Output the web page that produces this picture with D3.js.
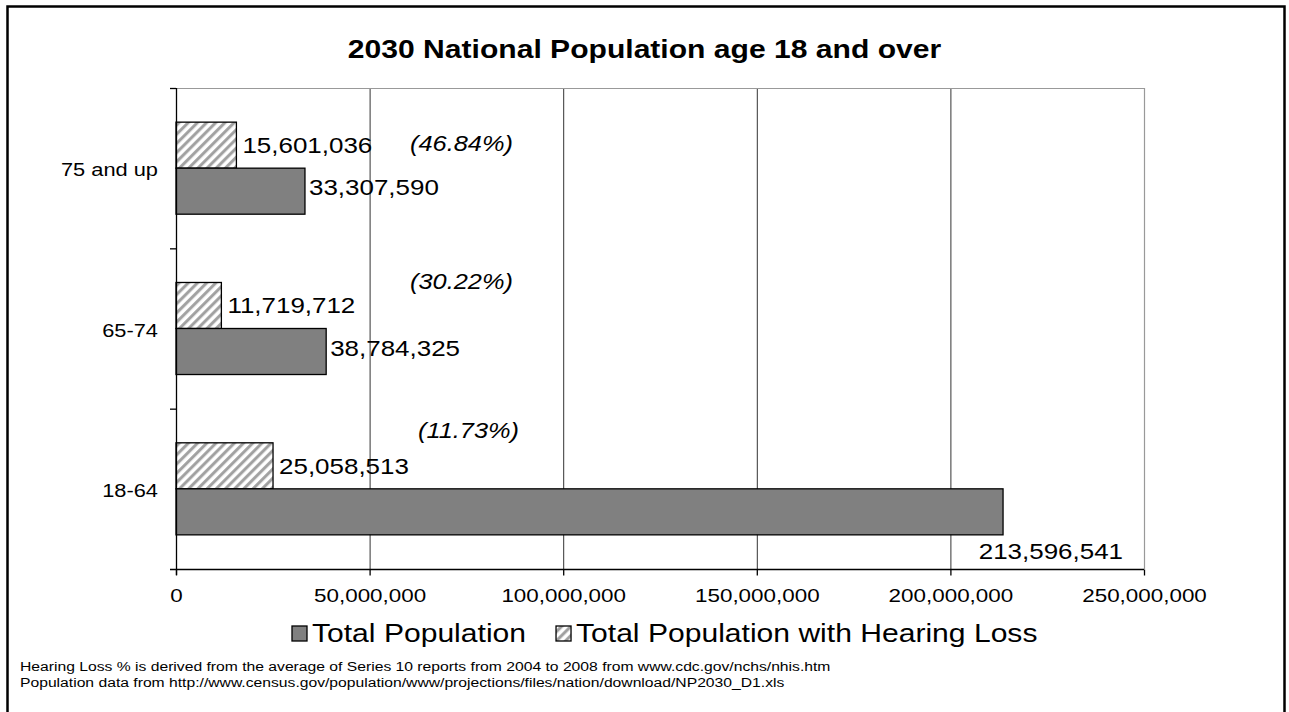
<!DOCTYPE html>
<html>
<head>
<meta charset="utf-8">
<script src="https://cdn.jsdelivr.net/npm/d3@7"></script>
<style>
  body { margin: 0; background: #fff; }
  svg text { font-family: Arial, "Liberation Sans", sans-serif; fill: #000; }
</style>
</head>
<body>
<svg id="chart" width="1289" height="712"></svg>
<script>

// chart data
var categories = ["75 and up", "65-74", "18-64"];
var totalPop = [33307590, 38784325, 213596541];
var hearingLoss = [15601036, 11719712, 25058513];
var pctLabels = ["(46.84%)", "(30.22%)", "(11.73%)"];
var xTicks = [0, 50000000, 100000000, 150000000, 200000000, 250000000];
var seriesNames = ["Total Population", "Total Population with Hearing Loss"];
var title = "2030 National Population age 18 and over";
var footnotes = [
  "Hearing Loss % is derived from the average of Series 10 reports from 2004 to 2008 from www.cdc.gov/nchs/nhis.htm",
  "Population data from http://www.census.gov/population/www/projections/files/nation/download/NP2030_D1.xls"
];

var SX = 1.18; // the original text is a bit wide
var fmt = d3.format(",");

var svg = d3.select("#chart");
var W = 1289, H = 712;
var plot = {left: 176, right: 1144, top: 88, bottom: 569};

function addText(parent, x, y, txt, size){
  return parent.append("text")
    .attr("transform", "translate(" + x + "," + y + ") scale(" + SX + ",1)")
    .attr("font-size", size)
    .text(txt);
}

// hatch pattern
var defs = svg.append("defs");
var pat = defs.append("pattern")
  .attr("id", "hatch")
  .attr("patternUnits", "userSpaceOnUse")
  .attr("width", 6.5).attr("height", 6.5)
  .attr("patternTransform", "rotate(45)");
pat.append("rect").attr("width", 6.5).attr("height", 6.5).attr("fill", "#fff");
pat.append("line")
  .attr("x1", 1.6).attr("y1", 0).attr("x2", 1.6).attr("y2", 6.5)
  .attr("stroke", "#a0a0a0").attr("stroke-width", 3);

// outer frame
svg.append("rect")
  .attr("x", 7.5).attr("y", 6.5)
  .attr("width", 1277).attr("height", 720)
  .attr("fill", "none").attr("stroke", "#000").attr("stroke-width", 2.5);

var x = d3.scaleLinear().domain([0, 250000000]).range([plot.left, plot.right]);
var y = d3.scaleBand().domain(categories).range([plot.top, plot.bottom]).padding(0);
var sub = d3.scaleBand().domain(["hl", "total"]).range([0, y.step()]).paddingInner(0).paddingOuter(0.742);

// gridlines
svg.append("g").selectAll("line")
  .data(xTicks.slice(1, -1))
  .enter().append("line")
  .attr("x1", function(d){ return x(d) + 0.5; })
  .attr("x2", function(d){ return x(d) + 0.5; })
  .attr("y1", plot.top).attr("y2", plot.bottom)
  .attr("stroke", "#333").attr("stroke-width", 1);

// plot border top/right
svg.append("path")
  .attr("d", "M" + plot.left + "," + (plot.top + 0.5) + "H" + (plot.right + 0.5) + "V" + plot.bottom)
  .attr("fill", "none").attr("stroke", "#999").attr("stroke-width", 1.2);

// bars
var rows = categories.map(function(c, i){
  return {cat: c, total: totalPop[i], hl: hearingLoss[i], pct: pctLabels[i]};
});

var g = svg.append("g");
var groups = g.selectAll("g.row").data(rows).enter().append("g")
  .attr("class", "row")
  .attr("transform", function(d){ return "translate(0," + y(d.cat) + ")"; });

groups.append("rect")
  .attr("x", x(0))
  .attr("y", sub("hl"))
  .attr("width", function(d){ return x(d.hl) - x(0); })
  .attr("height", sub.bandwidth())
  .attr("fill", "url(#hatch)")
  .attr("stroke", "#000").attr("stroke-width", 1.3);

groups.append("rect")
  .attr("x", x(0))
  .attr("y", sub("total"))
  .attr("width", function(d){ return x(d.total) - x(0); })
  .attr("height", sub.bandwidth())
  .attr("fill", "#808080")
  .attr("stroke", "#000").attr("stroke-width", 1.3);

// value labels
groups.each(function(d){
  var row = d3.select(this);
  addText(row, x(d.hl) + 6, sub("hl") + sub.bandwidth() / 2 + 8, fmt(d.hl), 22);
  var tx = x(d.total) + 4;
  var t = addText(row, tx, sub("total") + sub.bandwidth() / 2 + 4, fmt(d.total), 22);
  var w = t.node().getBBox().width * SX;
  if (tx + w > plot.right) {
    // does not fit: Excel dropped it under the bar
    t.attr("text-anchor", "end")
      .attr("transform", "translate(" + (plot.right - 21) + "," + (sub("total") + sub.bandwidth() + 24) + ") scale(" + SX + ",1)");
  }
});

// percent notes
var pctDy = [-2 + 8, -sub.bandwidth() / 2 - 1 + 8, -sub.bandwidth() / 2 - 13 + 8];
var pctDx = [410, 410, 418];
groups.each(function(d, i){
  addText(d3.select(this), pctDx[i], sub("hl") + sub.bandwidth() / 2 + pctDy[i], d.pct, 21.5)
    .attr("font-style", "italic");
});

// x axis
var xAxis = svg.append("g")
  .attr("transform", "translate(0," + (plot.bottom + 0.5) + ")")
  .call(d3.axisBottom(x).tickValues(xTicks).tickFormat(fmt).tickSize(6).tickSizeOuter(0));
xAxis.select(".domain").attr("stroke", "#000").attr("stroke-width", 1.3)
  .attr("d", "M" + (plot.left - 6) + ",0H" + plot.right);
xAxis.selectAll(".tick line").attr("stroke", "#000").attr("stroke-width", 1.3);
xAxis.selectAll(".tick text")
  .attr("font-size", 19).attr("font-family", "Arial, 'Liberation Sans', sans-serif")
  .attr("fill", "#000")
  .attr("y", 33).attr("dy", 0)
  .attr("transform", "scale(" + SX + ",1)");

// y axis
var yAxis = svg.append("g");
yAxis.append("line")
  .attr("x1", plot.left + 0.5).attr("x2", plot.left + 0.5)
  .attr("y1", plot.top).attr("y2", plot.bottom + 6)
  .attr("stroke", "#000").attr("stroke-width", 1.3);
var bounds = categories.map(function(c){ return y(c); });
yAxis.selectAll("line.tk")
  .data(bounds)
  .enter().append("line")
  .attr("class", "tk")
  .attr("x1", plot.left - 6).attr("x2", plot.left)
  .attr("y1", function(d){ return d + 0.5; })
  .attr("y2", function(d){ return d + 0.5; })
  .attr("stroke", "#000").attr("stroke-width", 1.3);
categories.forEach(function(c){
  addText(yAxis, plot.left - 18, y(c) + y.bandwidth() / 2 + 8, c, 18.5)
    .attr("text-anchor", "end");
});

// title
addText(svg, W / 2, 58, title, 25.5)
  .attr("text-anchor", "middle").attr("font-weight", "bold");

// legend
var leg = svg.append("g");
var legFill = ["#808080", "url(#hatch)"];
var lx = 292;
seriesNames.forEach(function(n, i){
  leg.append("rect")
    .attr("x", lx).attr("y", 626)
    .attr("width", 15).attr("height", 15)
    .attr("fill", legFill[i]).attr("stroke", "#000").attr("stroke-width", 1.3);
  var t = addText(leg, lx + 20, 642, n, 25.5);
  lx = lx + 20 + t.node().getBBox().width * SX + 30;
});

// footnotes
footnotes.forEach(function(f, i){
  addText(svg, 20, 671 + i * 16, f, 13.3);
});

</script>
</body>
</html>
